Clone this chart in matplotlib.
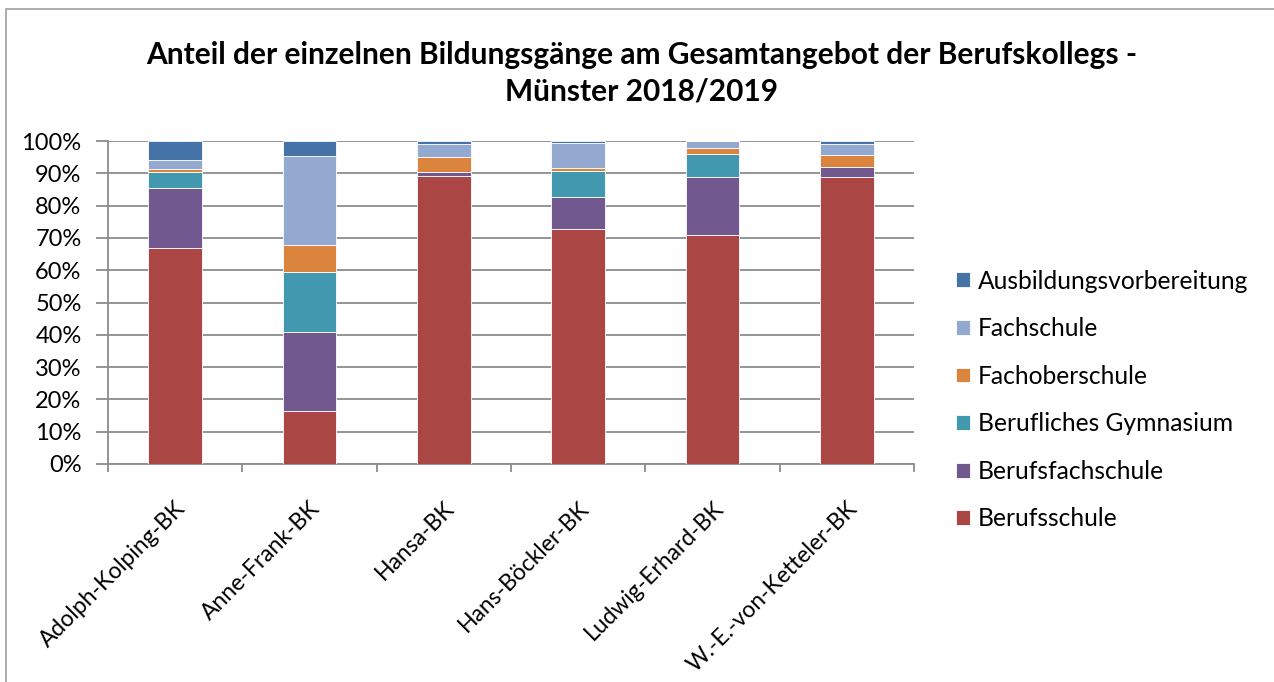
import matplotlib

matplotlib.use("Agg")
import matplotlib.pyplot as plt
import matplotlib.ticker as ticker
from matplotlib.patches import Rectangle
import numpy as np

plt.rcParams['font.family'] = ['Lato', 'DejaVu Sans']

schools = ["Adolph-Kolping-BK", "Anne-Frank-BK", "Hansa-BK",
           "Hans-Böckler-BK", "Ludwig-Erhard-BK", "W.-E.-von-Ketteler-BK"]

# shares in percent, bottom to top
berufsschule = [67.0, 16.4, 89.3, 72.7, 71.0, 88.9]
berufsfachschule = [18.6, 24.4, 1.0, 10.0, 17.9, 3.1]
berufl_gymnasium = [4.9, 18.5, 0.0, 8.1, 7.2, 0.0]
fachoberschule = [0.7, 8.5, 4.8, 0.9, 1.8, 3.8]
fachschule = [2.9, 27.5, 4.0, 7.8, 2.1, 3.4]
ausbildungsvorb = [5.9, 4.7, 0.9, 0.5, 0.0, 0.8]

series = [
    ("Berufsschule", berufsschule, "#AA4643"),
    ("Berufsfachschule", berufsfachschule, "#71588F"),
    ("Berufliches Gymnasium", berufl_gymnasium, "#4198AF"),
    ("Fachoberschule", fachoberschule, "#DB843D"),
    ("Fachschule", fachschule, "#93A9CF"),
    ("Ausbildungsvorbereitung", ausbildungsvorb, "#4572A7"),
]

fig = plt.figure(figsize=(12.74, 6.82), dpi=100)
ax = fig.add_axes([108 / 1274, 1 - 464 / 682, (914 - 108) / 1274, (464 - 141) / 682])

# chart border (left/top only visible)
fig.patches.append(Rectangle((6 / 1274, -0.1), 1.2, 1 - 9 / 682 + 0.1, transform=fig.transFigure,
                             fill=False, edgecolor='#a0a0a0', linewidth=1.2))

x = np.arange(len(schools))
bottom = np.zeros(len(schools))
for name, vals, col in series:
    ax.bar(x, vals, width=0.4, bottom=bottom, color=col, edgecolor='white',
           linewidth=0.6, label=name, zorder=3)
    bottom += np.array(vals)

ax.set_xlim(-0.5, len(schools) - 0.5)
ax.set_ylim(0, 100)
ax.yaxis.set_major_locator(ticker.MultipleLocator(10))
ax.yaxis.set_major_formatter(ticker.FuncFormatter(lambda v, pos: f"{v:.0f}%"))
ax.grid(axis='y', color='#8c8c8c', linewidth=1.3, zorder=0)

for s in ['top', 'right']:
    ax.spines[s].set_visible(False)
for s in ['left', 'bottom']:
    ax.spines[s].set_color('#8c8c8c')
    ax.spines[s].set_linewidth(1.3)

ax.tick_params(axis='y', length=9, width=1.3, color='#8c8c8c', labelsize=17, pad=10)
ax.set_xticks(x)
ax.set_xticklabels(schools, rotation=45, ha='right', rotation_mode='anchor', fontsize=16.5)
ax.tick_params(axis='x', length=0, pad=24)
ax.set_xticks(np.arange(len(schools) + 1) - 0.5, minor=True)
ax.tick_params(axis='x', which='minor', length=6, width=1.3, color='#8c8c8c')

fig.text(0.5035, 1 - 55 / 682, "Anteil der einzelnen Bildungsgänge am Gesamtangebot der Berufskollegs -",
         ha='center', va='center', fontsize=21.5, fontweight='bold')
fig.text(0.5035, 1 - 92 / 682, "Münster 2018/2019",
         ha='center', va='center', fontsize=21.5, fontweight='bold')

handles, labels = ax.get_legend_handles_labels()
fig.legend(handles[::-1], labels[::-1], loc='center left', bbox_to_anchor=(934 / 1274, 1 - 400 / 682),
           frameon=False, fontsize=17.7, handlelength=0.55, handleheight=0.55,
           handletextpad=0.35, labelspacing=1.0)

plt.savefig("out.png", dpi=100)
plt.close()
